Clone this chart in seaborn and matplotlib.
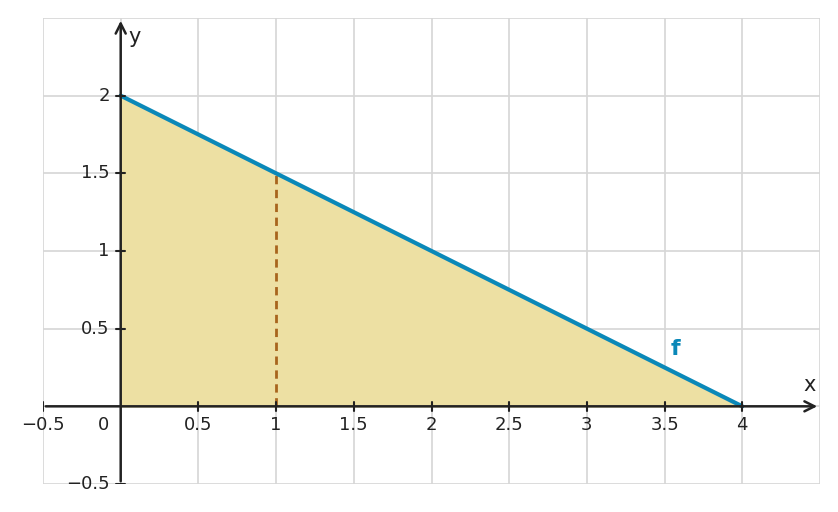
import matplotlib.pyplot as plt
import seaborn as sns

# data
x_line = [0, 4]
y_line = [2, 0]
x_cut = 1
y_cut = 1.5
x_ticks = [-0.5, 0.5, 1, 1.5, 2, 2.5, 3, 3.5, 4]
y_ticks = [-0.5, 0.5, 1, 1.5, 2]

sns.set_style('white')
plt.rcParams['font.family'] = ['DejaVu Sans']

fig = plt.figure(figsize=(8.38, 5.12), dpi=100)
ax = fig.add_axes([43/838, 28/512, 777/838, 466/512])
ax.set_xlim(-0.5, 4.5)
ax.set_ylim(-0.5, 2.5)

# grid
for g in [-0.5, 0, 0.5, 1, 1.5, 2, 2.5, 3, 3.5, 4, 4.5]:
    ax.axvline(g, color='#d6d6d6', lw=1.2, zorder=0)
for g in [-0.5, 0, 0.5, 1, 1.5, 2, 2.5]:
    ax.axhline(g, color='#d6d6d6', lw=1.2, zorder=0)

ax.fill_between(x_line, y_line, 0, color='#ede0a3', zorder=1)
ax.plot([x_cut, x_cut], [0, y_cut], color='#a8651d', lw=2, ls=(0, (3, 2)), zorder=2)
sns.lineplot(x=x_line, y=y_line, color='#0a88b8', lw=3, ax=ax, zorder=3)
ax.text(3.57, 0.37, 'f', color='#0a88b8', fontsize=16, fontweight='bold', ha='center', va='center')

for s in ax.spines.values():
    s.set_visible(False)
ax.set_xticks([])
ax.set_yticks([])

# axes with arrows
ax.annotate('', xy=(4.5, 0), xytext=(-0.5, 0),
            arrowprops=dict(arrowstyle='->', color='#222222', lw=1.8, mutation_scale=18), zorder=4)
ax.annotate('', xy=(0, 2.5), xytext=(0, -0.5),
            arrowprops=dict(arrowstyle='->', color='#222222', lw=1.8, mutation_scale=18), zorder=4)
ax.text(4.43, 0.07, 'x', fontsize=15, color='#222222', ha='center', va='bottom')
ax.text(0.09, 2.38, 'y', fontsize=15, color='#222222', ha='center', va='center')

t = 0.03
for v in x_ticks:
    ax.plot([v, v], [-t, t], color='#222222', lw=1.5, zorder=4)
    lab = '\u22120.5' if v < 0 else f'{v:g}'
    ax.text(v, -0.06, lab, fontsize=13, color='#222222', ha='center', va='top')
ax.text(-0.11, -0.06, '0', fontsize=13, color='#222222', ha='center', va='top')
for v in y_ticks:
    ax.plot([-t, t], [v, v], color='#222222', lw=1.5, zorder=4)
    lab = '\u22120.5' if v < 0 else f'{v:g}'
    ax.text(-0.07, v, lab, fontsize=13, color='#222222', ha='right', va='center')

fig.savefig('out.png', dpi=100)
